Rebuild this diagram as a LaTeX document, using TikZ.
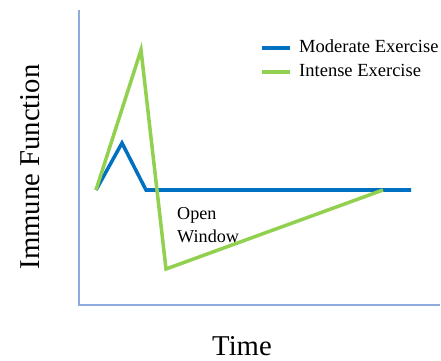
\documentclass[tikz,border=0pt]{standalone}
\usepackage{fontspec}
\setmainfont{Liberation Serif}
\usepackage{tikz}
\definecolor{modblue}{HTML}{0070C0}
\definecolor{intgreen}{HTML}{92D050}
\definecolor{axisblue}{HTML}{8FAADC}
\newcommand{\legentry}[4]{% #1: name, #2: color, #3: y, #4: text
	\draw[#2,line width=3pt] (262,#3) -- (290,#3);
	\node[anchor=west,font=\fontsize{15.8}{18}\selectfont,inner sep=0pt] (#1) at (299,#3-2) {#4};
}

\begin{document}
\begin{tikzpicture}[x=0.03cm,y=-0.03cm]
	\useasboundingbox (0,0) rectangle (441,361);
	
	% Draw the axes
	\draw[axisblue,line width=1pt] (79,10) -- (79,305) -- (440,305);
	
	% Label the axes
	\node[rotate=90,font=\fontsize{24.5}{28}\selectfont] (ylab) at (30,167) {Immune Function};
	\node[font=\fontsize{24.5}{28}\selectfont] (xlab) at (242,346) {Time};
	
	% Moderate exercise
	\draw[modblue,line width=3pt,line join=miter] (96,190) -- (122,143) -- (146,190) -- (411,190);
	
	% Intense exercise
	\draw[intgreen,line width=3pt,line join=miter] (96,190) -- (141,50) -- (166,269) -- (383,190);
	
	% Legend
	\legentry{modlab}{modblue}{48}{Moderate Exercise}
	\legentry{intlab}{intgreen}{72}{Intense Exercise}
	
	% Open window label
	\node[anchor=north west,align=left,font=\fontsize{15.5}{19.5}\selectfont,inner sep=0pt] (window) at (177,207) {Open\\Window};
\end{tikzpicture}
\end{document}
